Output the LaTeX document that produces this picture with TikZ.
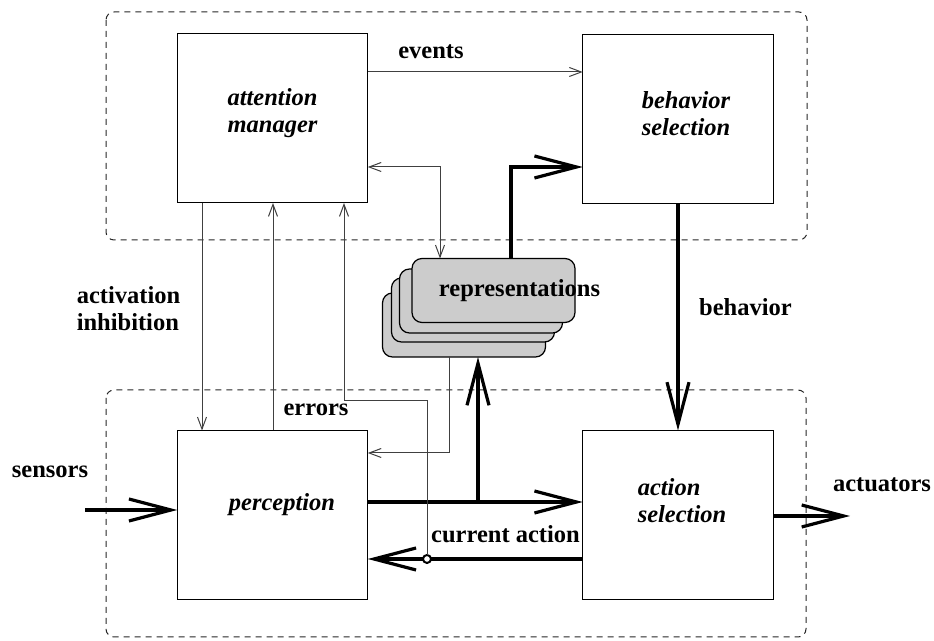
\documentclass[tikz,border=0pt]{standalone}
\usepackage{fontspec}
\setmainfont{Liberation Serif}
\usetikzlibrary{calc}
\usetikzlibrary{arrows.meta}

\begin{document}
\begin{tikzpicture}[x=0.5pt,y=-0.5pt]
    \tikzstyle{every node}=[font=\fontsize{12.25pt}{13.5pt}\selectfont\bfseries]
    \tikzstyle{module}=[draw=black,line width=0.5pt,minimum width=95.25pt,minimum height=84.5pt,inner sep=0pt,outer sep=0pt]
    \tikzstyle{module text}=[align=left,inner sep=0pt,font=\fontsize{12.25pt}{13.5pt}\selectfont\bfseries\itshape]
    \tikzstyle{card}=[draw=black,fill=black!20,line width=0.6pt,rounded corners=5pt,minimum width=81.5pt,minimum height=32pt,inner sep=0pt,outer sep=0pt]
    \tikzstyle{group}=[draw=black!85,line width=0.5pt,dash pattern=on 3pt off 2.5pt,rounded corners=4pt]
    \tikzstyle{signal}=[-{Straight Barb[length=6pt,width=4.5pt]},line width=0.5pt,color=black!75]
    \tikzstyle{signal both}=[{Straight Barb[length=6pt,width=4.5pt]}-{Straight Barb[length=6pt,width=4.5pt]},line width=0.5pt,color=black!75]
    \tikzstyle{stream}=[-{Straight Barb[length=21pt,width=11pt]},line width=1.6pt,color=black]
    \tikzstyle{tap}=[draw=black,circle,line width=1pt,fill=white,minimum size=4pt,inner sep=0pt,outer sep=0pt]

    \useasboundingbox (0,0) rectangle (934,641);

    % Groups
    \draw[style=group] (106,12) rectangle (807,240);
    \draw[style=group] (106,390) rectangle (806,637);

    % Modules
    \node[style=module] (attn) at (272.5,118.5) {};
    \node[style=module] (behav) at (678,119) {};
    \node[style=module] (percep) at (272.5,515) {};
    \node[style=module] (actsel) at (678,515) {};

    \node[style=module text] (attn text) at (272.5,113.5) {attention\\manager};
    \node[style=module text] (behav text) at (686,114) {behavior\\selection};
    \node[style=module text] (percep text) at (282,505) {perception};
    \node[style=module text] (actsel text) at (682,501) {action\\selection};

    % Representations
    \node[style=card] (rep1) at (464,325) {};
    \node[style=card] (rep2) at (473,310) {};
    \node[style=card] (rep3) at (481,301) {};
    \node[style=card] (rep4) at (493.5,290.5) {};
    \node (reps) at (519.5,291) {representations};

    \coordinate (ev) at (0,72);
    \coordinate (am) at (440,167);
    \coordinate (rb) at (511,167);
    \coordinate (ai) at (202,0);
    \coordinate (er) at (273,0);
    \coordinate (fb) at (344,401);
    \coordinate (rp) at (449,453);
    \coordinate (pa) at (478,502);
    \coordinate (ca) at (0,559);
    \coordinate (sens) at (85,510);
    \coordinate (act) at (850,516);

    % Top
    \draw[style=signal] (attn.east |- ev) -- (behav.west |- ev);
    \draw[style=signal both] (attn.east |- am) -| (rep4.north -| am);
    \draw[style=stream] (rep4.north -| rb) |- (behav.west |- rb);
    \draw[style=stream] (behav.south) -- (actsel.north);

    % Left
    \draw[style=signal] (attn.south -| ai) -- (percep.north -| ai);
    \draw[style=signal] (percep.north -| er) -- (attn.south -| er);

    % Bottom
    \draw[style=signal] (rep1.south -| rp) |- (percep.east |- rp);
    \draw[style=stream] (percep.east |- pa) -- (actsel.west |- pa);
    \draw[style=stream] (pa) -- (rep1.south -| pa);
    \draw[style=stream] (actsel.west |- ca) -- (percep.east |- ca);
    \node[style=tap] (tap) at (427,559) {};
    \draw[style=signal] (tap.north) |- (fb) -- (attn.south -| fb);
    \draw[style=stream] (sens) -- (percep.west |- sens);
    \draw[style=stream] (actsel.east |- act) -- (act);

    % Labels
    \node (events) at (431,52) {events};
    \node (behavior) at (745.5,307) {behavior};
    \node[align=left] (actinh) at (128.5,309) {activation\\inhibition};
    \node (errors) at (316,410) {errors};
    \node (current) at (505.5,534) {current action};
    \node (sensors) at (50,472) {sensors};
    \node (actuators) at (882,485) {actuators};
\end{tikzpicture}
\end{document}
